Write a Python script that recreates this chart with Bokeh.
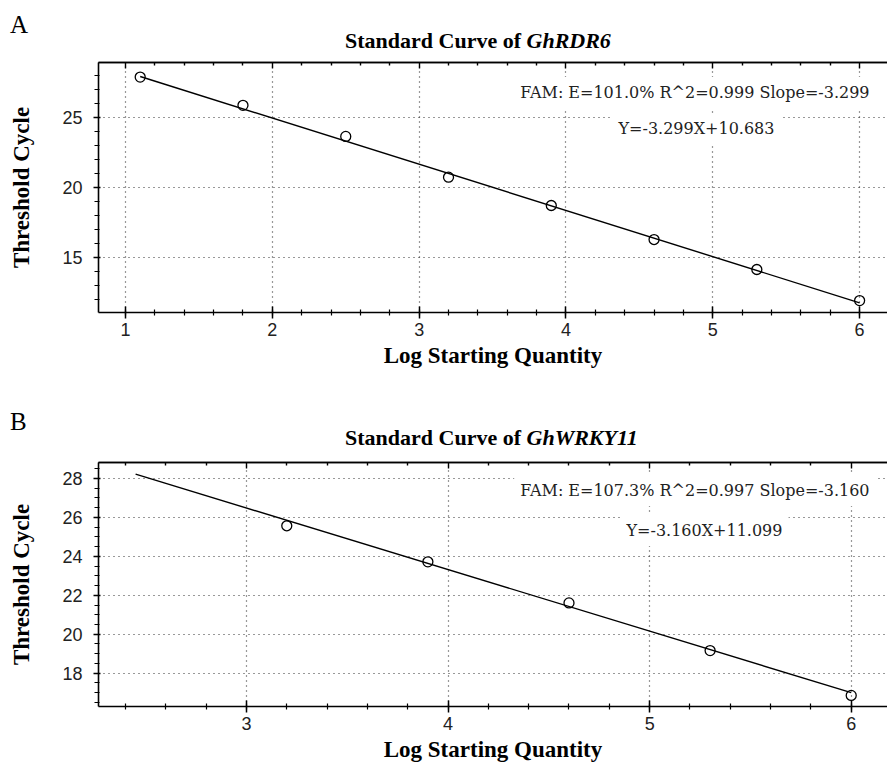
import numpy as np
from bokeh.plotting import figure
from bokeh.models import Label, LinearAxis, SingleIntervalTicker, FixedTicker, Range1d, Div
from bokeh.layouts import column
from bokeh.embed import file_html
from bokeh.resources import INLINE

# ---- Panel A : GhRDR6 ----
a_x = [1.1, 1.8, 2.5, 3.2, 3.9, 4.6, 5.3, 6.0]
a_y = [27.86, 25.84, 23.62, 20.71, 18.69, 16.26, 14.12, 11.90]
a_fit_x = [1.1, 6.0]
a_fit_y = [27.90, 11.74]
a_letter = "A"
a_gene = "GhRDR6"
a_stats = "FAM: E=101.0% R^2=0.999 Slope=-3.299"
a_eq = "Y=-3.299X+10.683"

# ---- Panel B : GhWRKY11 ----
b_x = [3.2, 3.9, 4.6, 5.3, 6.0]
b_y = [25.57, 23.72, 21.61, 19.16, 16.86]
b_fit_x = [2.45, 6.0]
b_fit_y = [28.22, 17.00]
b_letter = "B"
b_gene = "GhWRKY11"
b_stats = "FAM: E=107.3% R^2=0.997 Slope=-3.160"
b_eq = "Y=-3.160X+11.099"

title_prefix = "Standard Curve of"
x_title = "Log Starting Quantity"
y_title = "Threshold Cycle"

SERIF = "Liberation Serif"
TICKFONT = "Liberation Sans"
ANNFONT = "DejaVu Serif"
W = 887


def header(letter, gene, height, letter_top, title_top):
    html = (
        f'<div style="position:relative;width:{W}px;height:{height}px;'
        f'font-family:\'{SERIF}\',serif;color:#000;">'
        f'<span style="position:absolute;left:10px;top:{letter_top}px;'
        f'font-size:25px;line-height:1;">{letter}</span>'
        f'<span style="position:absolute;left:345px;top:{title_top}px;'
        f'font-size:22px;line-height:1;font-weight:bold;white-space:nowrap;">'
        f'{title_prefix} <i>{gene}</i></span></div>'
    )
    return Div(text=html, width=W, height=height, margin=0)


def make_panel(xs, ys, fx, fy, stats, eq, xr, yr, y_int, y_minor,
               height, b_top, b_bottom, eq_x, stats_dy, eq_dy):
    L = 98
    p = figure(width=W, height=height, x_range=Range1d(*xr), y_range=Range1d(*yr),
               output_backend="svg", toolbar_location=None,
               min_border_left=L, min_border_right=0,
               min_border_top=b_top, min_border_bottom=b_bottom,
               outline_line_color=None, background_fill_color="white",
               border_fill_color="white")
    fh = height - b_top - b_bottom

    xt = SingleIntervalTicker(interval=1, num_minor_ticks=5)
    yt = SingleIntervalTicker(interval=y_int, num_minor_ticks=y_minor)
    p.xaxis.ticker = xt
    p.yaxis.ticker = yt
    p.xgrid.ticker = xt
    p.ygrid.ticker = yt

    for ax in (p.xaxis[0], p.yaxis[0]):
        ax.axis_line_color = "black"
        ax.axis_line_width = 1.6
        ax.major_tick_line_color = "black"
        ax.minor_tick_line_color = "black"
        ax.major_tick_line_width = 1.5
        ax.minor_tick_line_width = 1.2
        ax.major_label_text_font = TICKFONT
        ax.major_label_text_font_size = "18px"
        ax.major_label_text_color = "#222222"
        ax.axis_label_text_font = SERIF
        ax.axis_label_text_font_style = "bold"
        ax.axis_label_text_font_size = "23px"
        ax.axis_label_text_color = "black"

    xa = p.xaxis[0]
    xa.major_tick_in = 6
    xa.major_tick_out = 6
    xa.minor_tick_in = 3
    xa.minor_tick_out = 3
    xa.major_label_standoff = 4
    xa.axis_label = x_title
    xa.axis_label_standoff = 4

    ya = p.yaxis[0]
    ya.major_tick_in = 2
    ya.major_tick_out = 5
    ya.minor_tick_in = 1
    ya.minor_tick_out = 4
    ya.major_label_standoff = 11
    ya.axis_label = y_title
    ya.axis_label_standoff = 25

    # top border with inward ticks only (no labels): tick positions from the range
    majors = [float(v) for v in np.arange(np.ceil(xr[0]), xr[1] + 1e-9, 1.0)]
    minors = [round(float(v), 1) for v in np.arange(np.ceil(xr[0] * 5) / 5, xr[1], 0.2)
              if abs(v - round(v)) > 1e-6]
    for vals, ln in ((majors, 6), (minors, 3)):
        top = LinearAxis(ticker=FixedTicker(ticks=[], minor_ticks=vals),
                         major_tick_in=0, major_tick_out=0,
                         minor_tick_in=ln, minor_tick_out=0,
                         axis_line_color="black", axis_line_width=1.6,
                         minor_tick_line_color="black", minor_tick_line_width=1.4,
                         major_label_standoff=0)
        p.add_layout(top, "above")

    for g in (p.xgrid[0], p.ygrid[0]):
        g.grid_line_color = "#333333"
        g.grid_line_dash = "1 4"
        g.grid_line_width = 1.2

    p.line(fx, fy, line_color="black", line_width=1.4)
    p.scatter(xs, ys, marker="circle", size=10, fill_color=None,
              line_color="black", line_width=1.3)

    p.add_layout(Label(x=777, y=fh - stats_dy, x_units="screen", y_units="screen",
                       text=stats, text_font=ANNFONT, text_font_size="16px",
                       text_color="#222222", text_align="right",
                       text_baseline="middle", background_fill_color="white",
                       padding=6))
    p.add_layout(Label(x=eq_x, y=fh - eq_dy, x_units="screen", y_units="screen",
                       text=eq, text_font=ANNFONT, text_font_size="16px",
                       text_color="#222222", text_align="center",
                       text_baseline="middle", background_fill_color="white",
                       padding=6))
    return p


ha = header(a_letter, a_gene, 56, 12, 30)
pa = make_panel(a_x, a_y, a_fit_x, a_fit_y, a_stats, a_eq,
                (0.816, 6.19), (11.05, 28.9), 5, 5,
                318, 6, 62, 598, 30, 66)
hb = header(b_letter, b_gene, 80, 35, 53)
pb = make_panel(b_x, b_y, b_fit_x, b_fit_y, b_stats, b_eq,
                (2.266, 6.18), (16.29, 28.82), 2, 4,
                312, 8, 60, 606, 28, 68)

layout = column(ha, pa, hb, pb, spacing=0)
open("out.html", "w").write(file_html(layout, INLINE))
